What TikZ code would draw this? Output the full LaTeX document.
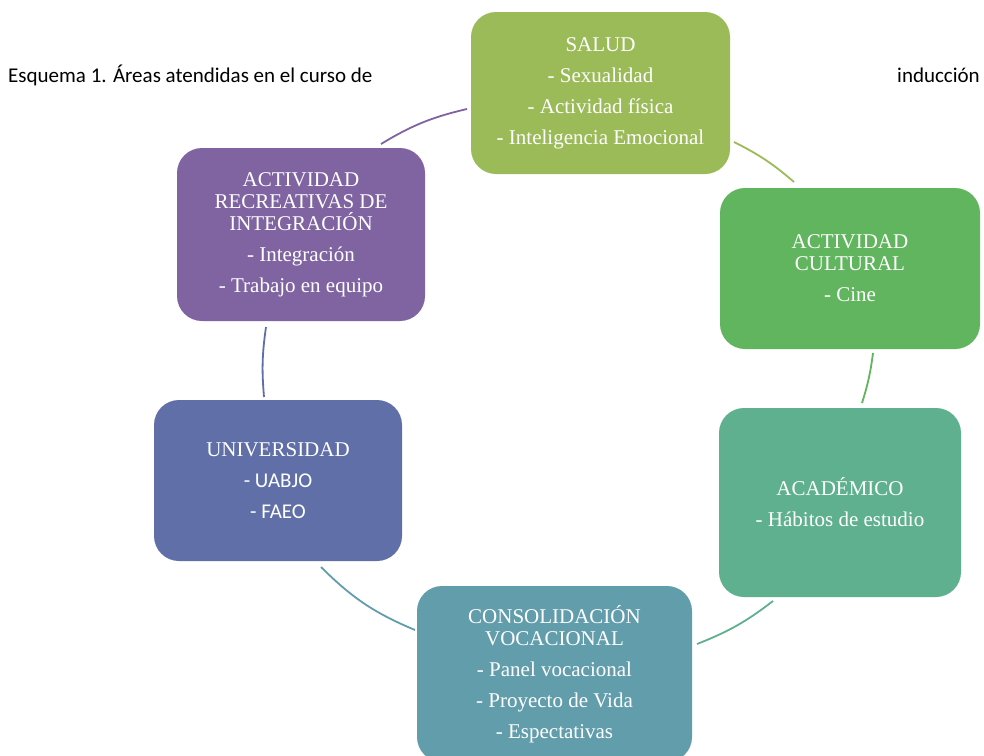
\documentclass[tikz,border=0pt]{standalone}
\usepackage{fontspec}
\setmainfont{Liberation Serif}
\newfontfamily\calfont{Carlito}
\definecolor{cSalud}{RGB}{155,187,89}
\definecolor{cCult}{RGB}{97,181,94}
\definecolor{cAcad}{RGB}{94,176,142}
\definecolor{cCons}{RGB}{98,157,172}
\definecolor{cUniv}{RGB}{97,111,168}
\definecolor{cRecr}{RGB}{128,100,162}
\tikzset{
  area/.style={rounded corners=25pt, draw=none, text=white, align=center,
    inner sep=0pt, font=\fontsize{21}{22}\selectfont},
  ring/.style={line width=1.8pt},
  titletext/.style={font=\calfont\fontsize{21}{24}\selectfont, inner sep=0pt}
}
\begin{document}
\begin{tikzpicture}[x=1pt,y=-1pt]
\useasboundingbox (0,0) rectangle (984,755);
\clip (0,0) rectangle (984,755);
\fill[white] (0,0) rectangle (984,755);

\node[titletext, anchor=base west] (title) at (8,82) {Esquema 1. Áreas atendidas en el curso de};
\node[titletext, anchor=base east] (title2) at (980,82) {inducción};

\node[area, fill=cSalud, minimum width=259pt, minimum height=162pt] (salud) at (600.5,93)
  {SALUD\\[9pt]- Sexualidad\\[9pt]- Actividad física\\[9pt]- Inteligencia Emocional};
\node[area, fill=cCult, minimum width=260pt, minimum height=161pt] (cult) at (850,268.5)
  {ACTIVIDAD\\CULTURAL\\[9pt]- Cine};
\node[area, fill=cAcad, minimum width=242pt, minimum height=189pt] (acad) at (840,502.5)
  {ACADÉMICO\\[9pt]- Hábitos de estudio};
\node[area, fill=cCons, minimum width=275pt, minimum height=176pt] (cons) at (554.5,674)
  {CONSOLIDACIÓN\\VOCACIONAL\\[9pt]- Panel vocacional\\[9pt]- Proyecto de Vida\\[9pt]- Espectativas};
\node[area, fill=cUniv, minimum width=248pt, minimum height=161pt] (univ) at (278,480.5)
  {UNIVERSIDAD\\[9pt]{\calfont - UABJO}\\[9pt]{\calfont - FAEO}};
\node[area, fill=cRecr, minimum width=248pt, minimum height=173pt] (recr) at (301,234.5)
  {ACTIVIDAD\\RECREATIVAS DE\\INTEGRACIÓN\\[9pt]- Integración\\[9pt]- Trabajo en equipo};

\coordinate (a1s) at (381,144); \coordinate (a1e) at (467,109);
\coordinate (a2s) at (734,142); \coordinate (a2e) at (794,182);
\coordinate (a3s) at (873,353); \coordinate (a3e) at (862,403);
\coordinate (a4s) at (773,601); \coordinate (a4e) at (697,644);
\coordinate (a5s) at (415,630); \coordinate (a5e) at (321,567);
\coordinate (a6s) at (264,397); \coordinate (a6e) at (266,327);

\draw[ring, cRecr] (a1s) to[bend left=9] (a1e);
\draw[ring, cSalud] (a2s) to[bend left=7] (a2e);
\draw[ring, cCult] (a3s) to[bend left=5] (a3e);
\draw[ring, cAcad] (a4s) to[bend left=8] (a4e);
\draw[ring, cCons] (a5s) to[bend left=11] (a5e);
\draw[ring, cUniv] (a6s) to[bend left=6.5] (a6e);
\end{tikzpicture}
\end{document}
